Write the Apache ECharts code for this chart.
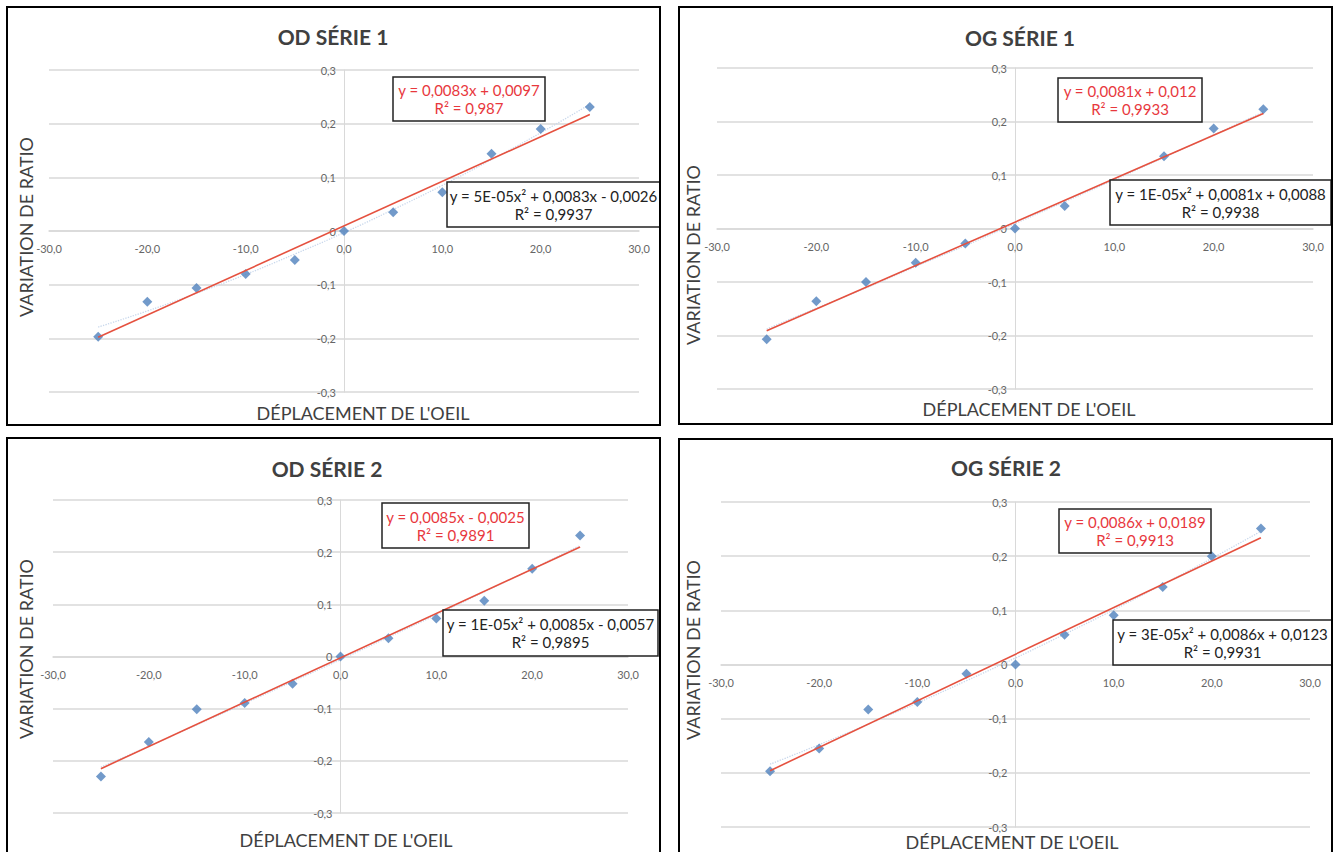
<!DOCTYPE html>
<html>
<head>
<meta charset="utf-8">
<script src="https://cdn.jsdelivr.net/npm/echarts@6/dist/echarts.min.js"></script>
<style>
html,body{margin:0;padding:0;background:#fff;}
#chart{width:1335px;height:852px;}
</style>
</head>
<body>
<div id="chart"></div>
<script>
// ---- data ----
const xValues = [-25, -20, -15, -10, -5, 0, 5, 10, 15, 20, 25];
const odSerie1 = [-0.197, -0.132, -0.106, -0.080, -0.054, 0.000, 0.035, 0.072, 0.144, 0.190, 0.231];
const ogSerie1 = [-0.207, -0.136, -0.100, -0.064, -0.028, 0.000, 0.042, 0.080, 0.135, 0.187, 0.223];
const odSerie2 = [-0.230, -0.164, -0.101, -0.089, -0.052, 0.000, 0.035, 0.073, 0.107, 0.168, 0.232];
const ogSerie2 = [-0.197, -0.155, -0.083, -0.069, -0.017, 0.000, 0.055, 0.091, 0.143, 0.200, 0.251];

// linear trendline values at x = -25 and x = 25
const trendX = [-25, 25];
const trendOD1 = [-0.198, 0.217];
const trendOG1 = [-0.191, 0.215];
const trendOD2 = [-0.215, 0.210];
const trendOG2 = [-0.196, 0.234];

// polynomial (faint dotted) trendline values at xValues
const polyOD1 = [-0.179, -0.149, -0.116, -0.081, -0.043, -0.003, 0.040, 0.085, 0.133, 0.183, 0.236];
const polyOG1 = [-0.188, -0.149, -0.111, -0.071, -0.032, 0.009, 0.050, 0.091, 0.133, 0.175, 0.218];
const polyOD2 = [-0.212, -0.172, -0.131, -0.090, -0.048, -0.006, 0.037, 0.080, 0.124, 0.168, 0.213];
const polyOG2 = [-0.184, -0.148, -0.110, -0.071, -0.030, 0.012, 0.056, 0.101, 0.148, 0.196, 0.246];

const titles = ['OD SÉRIE 1', 'OG SÉRIE 1', 'OD SÉRIE 2', 'OG SÉRIE 2'];
const xAxisName = "DÉPLACEMENT DE L'OEIL";
const yAxisName = 'VARIATION DE RATIO';
const linearEq = [
  'y = 0,0083x + 0,0097\nR² = 0,987',
  'y = 0,0081x + 0,012\nR² = 0,9933',
  'y = 0,0085x - 0,0025\nR² = 0,9891',
  'y = 0,0086x + 0,0189\nR² = 0,9913'
];
const polyEq = [
  'y = 5E-05x² + 0,0083x - 0,0026\nR² = 0,9937',
  'y = 1E-05x² + 0,0081x + 0,0088\nR² = 0,9938',
  'y = 1E-05x² + 0,0085x - 0,0057\nR² = 0,9895',
  'y = 3E-05x² + 0,0086x + 0,0123\nR² = 0,9931'
];
const xTickLabels = ['-30,0', '-20,0', '-10,0', '0,0', '10,0', '20,0', '30,0'];
const yTickLabels = ['-0,3', '-0,2', '-0,1', '0', '0,1', '0,2', '0,3'];

const seriesValues = [odSerie1, ogSerie1, odSerie2, ogSerie2];
const trendValues = [trendOD1, trendOG1, trendOD2, trendOG2];
const polyValues = [polyOD1, polyOG1, polyOD2, polyOG2];

// ---- layout ----
const FONT = 'Lato, "Open Sans", sans-serif';
const grids = [
  {left: 49, top: 70, width: 590, height: 322},
  {left: 717, top: 68, width: 596, height: 321},
  {left: 53, top: 500, width: 575, height: 313},
  {left: 721, top: 502, width: 589, height: 325}
];
const panels = [
  {x: 7, y: 7, w: 653, h: 418},
  {x: 679, y: 7, w: 653, h: 417},
  {x: 7, y: 438, w: 653, h: 430},
  {x: 679, y: 439, w: 653, h: 430}
];
const titlePos = [[333, 36], [1020, 37], [327, 468], [1006, 467]];
const yNamePos = [[26, 227], [693, 255], [26, 649], [693, 650]];
const xNamePos = [[363, 413], [1029, 409], [346, 840], [1012, 842]];
const redBox = [[393, 77, 152, 44], [1058, 78, 144, 44], [382, 503, 147, 45], [1059, 509, 152, 44]];
const blackBox = [[447, 182, 213, 45], [1110, 180, 221, 45], [443, 610, 215, 46], [1113, 620, 219, 45]];

const gridColor = '#d9d9d9';
const xAxes = [], yAxes = [], series = [], graphics = [];

grids.forEach((g, i) => {
  xAxes.push({
    gridIndex: i, type: 'value', min: -30, max: 30, interval: 10,
    position: 'bottom', offset: -g.height / 2,
    axisLine: {show: true, onZero: false, lineStyle: {color: gridColor, width: 1.5}},
    axisTick: {show: false},
    splitLine: {show: false},
    axisLabel: {
      formatter: v => xTickLabels[Math.round((v + 30) / 10)],
      color: '#666', fontSize: 11, fontFamily: FONT, margin: 12,
      showMinLabel: true, showMaxLabel: true
    }
  });
  yAxes.push({
    gridIndex: i, type: 'value', min: -0.3, max: 0.3, interval: 0.1,
    position: 'left', offset: -g.width / 2,
    axisLine: {show: true, onZero: false, lineStyle: {color: gridColor, width: 1}},
    axisTick: {show: false},
    splitLine: {show: true, lineStyle: {color: gridColor, width: 1.5}},
    axisLabel: {
      formatter: v => yTickLabels[Math.round((v + 0.3) / 0.1)],
      color: '#666', fontSize: 11, fontFamily: FONT, margin: 8,
      showMinLabel: true, showMaxLabel: true
    }
  });
  series.push({
    type: 'line', xAxisIndex: i, yAxisIndex: i, smooth: true, symbol: 'none',
    lineStyle: {color: '#c9d8ec', width: 1.3, type: 'dotted'},
    data: xValues.map((x, k) => [x, polyValues[i][k]]), z: 2, silent: true
  });
  series.push({
    type: 'scatter', xAxisIndex: i, yAxisIndex: i, symbol: 'diamond', symbolSize: 10,
    itemStyle: {color: '#4f81bd'},
    data: xValues.map((x, k) => [x, seriesValues[i][k]]), z: 3
  });
  series.push({
    type: 'line', xAxisIndex: i, yAxisIndex: i, symbol: 'none',
    lineStyle: {color: '#e5513f', width: 1.6},
    data: trendX.map((x, k) => [x, trendValues[i][k]]), z: 4, silent: true
  });

  const p = panels[i];
  graphics.push({type: 'rect', shape: {x: p.x, y: p.y, width: p.w, height: p.h},
    style: {fill: 'none', stroke: '#000', lineWidth: 2}, z: 200});
  graphics.push({type: 'text', x: titlePos[i][0], y: titlePos[i][1],
    style: {text: titles[i], align: 'center', verticalAlign: 'middle', fill: '#404040',
      font: 'bold 21px ' + FONT}, z: 150});
  graphics.push({type: 'text', x: yNamePos[i][0], y: yNamePos[i][1], rotation: Math.PI / 2,
    style: {text: yAxisName, align: 'center', verticalAlign: 'middle', fill: '#404040',
      font: '18px ' + FONT}, z: 150});
  graphics.push({type: 'text', x: xNamePos[i][0], y: xNamePos[i][1],
    style: {text: xAxisName, align: 'center', verticalAlign: 'middle', fill: '#404040',
      font: '18px ' + FONT}, z: 150});
  const rb = redBox[i];
  graphics.push({type: 'rect', shape: {x: rb[0], y: rb[1], width: rb[2], height: rb[3]},
    style: {fill: '#fff', stroke: '#222', lineWidth: 1.5}, z: 160});
  graphics.push({type: 'text', x: rb[0] + rb[2] / 2, y: rb[1] + rb[3] / 2,
    style: {text: linearEq[i], align: 'center', verticalAlign: 'middle', fill: '#e8383d',
      font: '15px ' + FONT, lineHeight: 18}, z: 170});
  const bb = blackBox[i];
  graphics.push({type: 'rect', shape: {x: bb[0], y: bb[1], width: bb[2], height: bb[3]},
    style: {fill: '#fff', stroke: '#222', lineWidth: 1.5}, z: 160});
  graphics.push({type: 'text', x: bb[0] + bb[2] / 2, y: bb[1] + bb[3] / 2,
    style: {text: polyEq[i], align: 'center', verticalAlign: 'middle', fill: '#222',
      font: '15px ' + FONT, lineHeight: 18}, z: 170});
});

const chart = echarts.init(document.getElementById('chart'), null, {renderer: 'svg', width: 1335, height: 852});
chart.setOption({
  backgroundColor: '#fff',
  animation: false,
  grid: grids.map(g => Object.assign({containLabel: false}, g)),
  xAxis: xAxes,
  yAxis: yAxes,
  series: series,
  graphic: {elements: graphics}
});
</script>
</body>
</html>
